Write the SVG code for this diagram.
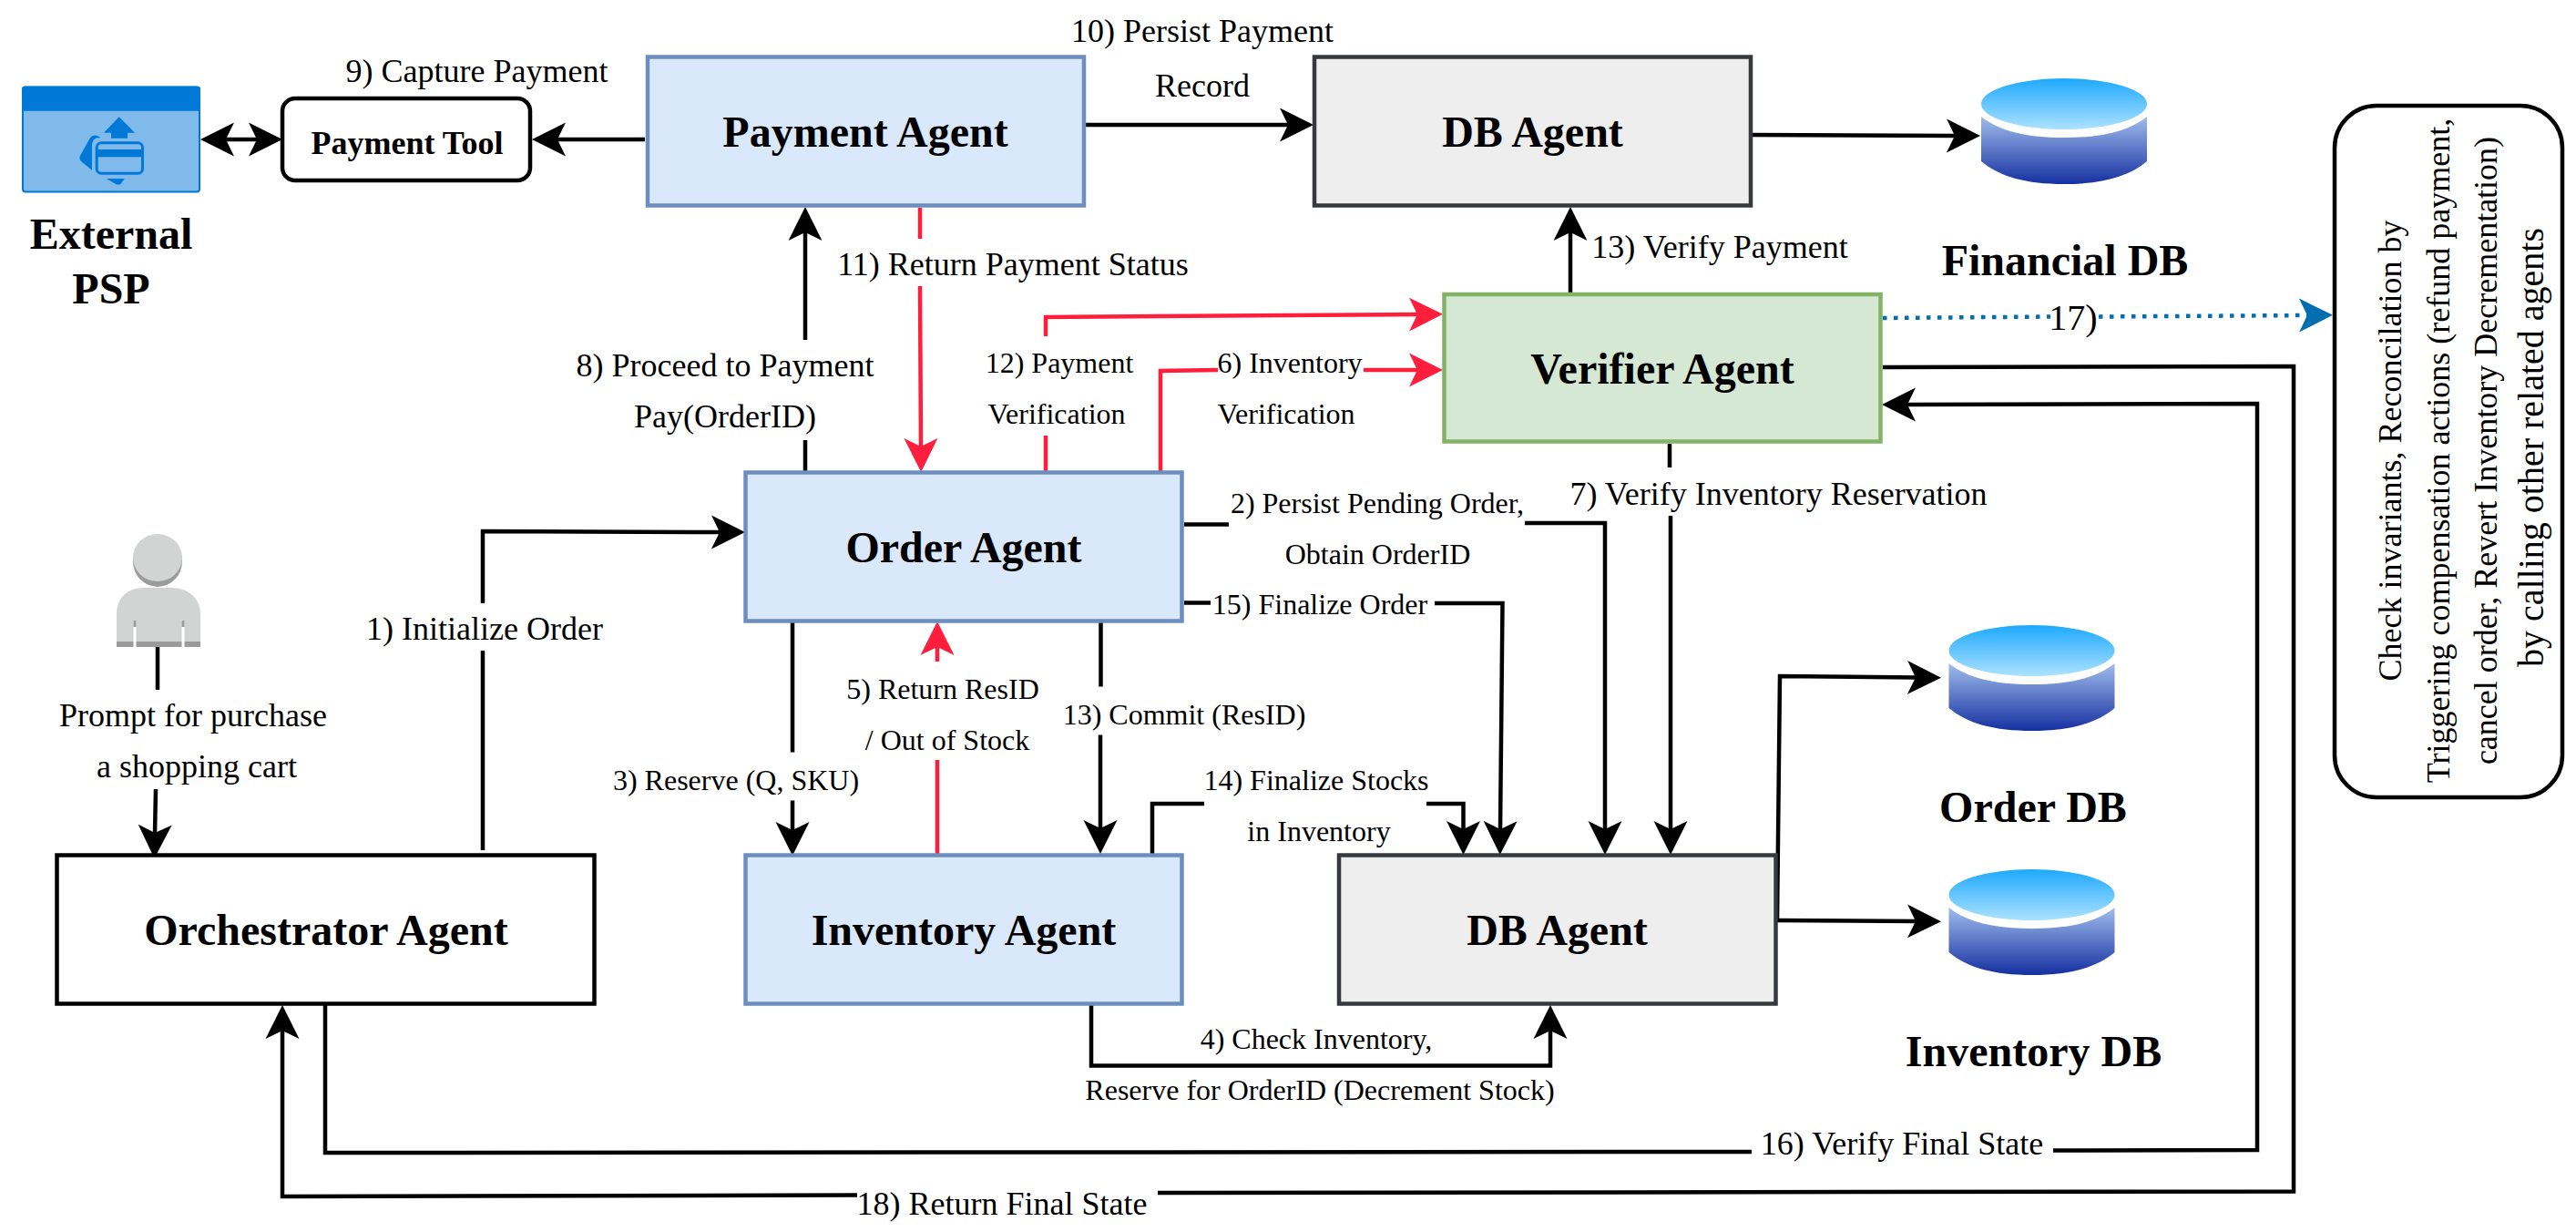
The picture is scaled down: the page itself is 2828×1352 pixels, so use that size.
<svg xmlns="http://www.w3.org/2000/svg" width="2828" height="1352" viewBox="0 0 2828 1352">
<style>
text{font-family:"Liberation Serif","Times New Roman",serif;fill:#000;text-anchor:middle}
.n{font-size:48px;font-weight:700}
.a{font-size:36px}
.b{font-size:32px}
.box{stroke-width:4.5}
.blue{fill:#dae8fc;stroke:#6c8ebf}
.gray{fill:#eeeeee;stroke:#36393d}
.k{fill:none;stroke:#000;stroke-width:4.5;marker-end:url(#ak)}
.kn{fill:none;stroke:#000;stroke-width:4.5}
.r{fill:none;stroke:#ff1f3d;stroke-width:4.5;marker-end:url(#ar)}
.d{fill:none;stroke:#006eaf;stroke-width:4.5;stroke-dasharray:4.5 7.5;marker-end:url(#ad)}
</style>
<defs>
<marker id="ak" markerUnits="userSpaceOnUse" markerWidth="37" markerHeight="38" refX="10" refY="19" orient="auto"><path d="M37,19 L0,0.5 L9,19 L0,37.5 Z" fill="#000"/></marker>
<marker id="ar" markerUnits="userSpaceOnUse" markerWidth="37" markerHeight="38" refX="10" refY="19" orient="auto"><path d="M37,19 L0,0.5 L9,19 L0,37.5 Z" fill="#ff1f3d"/></marker>
<marker id="ad" markerUnits="userSpaceOnUse" markerWidth="37" markerHeight="38" refX="10" refY="19" orient="auto"><path d="M37,19 L0,0.5 L9,19 L0,37.5 Z" fill="#006eaf"/></marker>
<marker id="as" markerUnits="userSpaceOnUse" markerWidth="37" markerHeight="38" refX="10" refY="19" orient="auto-start-reverse"><path d="M37,19 L0,0.5 L9,19 L0,37.5 Z" fill="#000"/></marker>
<linearGradient id="gt" x1="0" y1="0" x2="0" y2="1"><stop offset="0" stop-color="#1ea9fd"/><stop offset="1" stop-color="#ace2ff"/></linearGradient>
<linearGradient id="gb" x1="0" y1="0" x2="0" y2="1"><stop offset="0" stop-color="#a0bcec"/><stop offset="1" stop-color="#1530a0"/></linearGradient>
<g id="cyl">
<ellipse cx="91" cy="28" rx="91" ry="28" fill="url(#gt)"/>
<path d="M0,42 C20,58 50,65 91,65 C132,65 162,58 182,42 L182,91 C162,108 132,116 91,116 C50,116 20,108 0,91 Z" fill="url(#gb)"/>
</g>
</defs>
<rect width="2828" height="1352" fill="#fff"/>

<g id="connectors">
<path class="kn" d="M247,153 L283,153" style="marker-start:url(#as);marker-end:url(#as)"/>
<path class="k" d="M708,153 L611,153"/>
<path class="k" d="M1190,137 L1415,137"/>
<path class="k" d="M1923,148 L2147,149"/>
<path class="k" d="M530,933 L530,714 M530,662 L530,583 L791,584"/>
<path class="kn" d="M173,710 L173,757"/>
<path class="k" d="M171,866 L170,915"/>
<path class="k" d="M884,517 L884,483 M884,373 L884,254"/>
<path class="r" d="M1010,228 L1010,262 M1010,314 L1011,491"/>
<path class="r" d="M1148,517 L1148,478 M1148,369 L1148,348 L1557,345"/>
<path class="r" d="M1274,517 L1274,407 L1337,406 M1497,406 L1557,406"/>
<path class="k" d="M1300,575.5 L1349,575.5 M1674,574 L1762,574 L1762,911"/>
<path class="k" d="M1300,661.5 L1329,661.5 M1575,662 L1649.5,662 L1647,911"/>
<path class="k" d="M1833,487 L1833,513 M1834,566 L1834,911"/>
<path class="k" d="M1265,938 L1265,882 L1322,882 M1566,882 L1606.5,882 L1606.5,911"/>
<path class="k" d="M870,683 L870,825.5 M870,878.5 L870,912"/>
<path class="r" d="M1029,938 L1029,834 M1029,726 L1029,709"/>
<path class="k" d="M1208.5,683 L1208.5,753.5 M1208,806.5 L1208,910"/>
<path class="k" d="M1198,1102 L1198,1169.5 L1702,1169.5 L1702,1130"/>
<path class="k" d="M1951,1010 L2104,1011"/>
<path class="k" d="M1951,1010 L1954,742 L2104,743.5"/>
<path class="k" d="M1724,321 L1724,254"/>
<path class="k" d="M2067,403 L2518,402 L2518,1307.5 L1271,1309 M941,1311.5 L310,1313 L310,1130"/>
<path class="k" d="M357,1102 L357,1265 L1923,1264 M2254,1262.5 L2478,1262 L2478,443 L2093,444"/>
<path class="d" d="M2067,349 L2251,347.5 M2304,347.5 L2534,346"/>
</g>

<g id="external-psp">
<rect x="25" y="95.5" width="194" height="115" rx="3" fill="#7fbaea" stroke="#0078d7" stroke-width="2"/>
<path d="M24,121.7 L24,97.5 Q24,94.7 27,94.7 L217,94.7 Q220,94.7 220,97.5 L220,121.7 Z" fill="#0078d7"/>
<path d="M130.7,128.3 L148,145.7 L140,145.7 L140,151.7 L122,151.7 L122,145.7 L114,145.7 Z" fill="#0078d7"/>
<path d="M101,186.7 L89,177 Q86.5,174 88,171 L98.5,152 Q101.5,148 106,148.7 L110.7,151 L106,151.5 Q101,153 101,160 Z" fill="#0078d7"/>
<rect x="106.2" y="156.8" width="50.3" height="33.4" rx="5" fill="#7fbaea" stroke="#0078d7" stroke-width="3"/>
<rect x="105" y="164" width="53" height="8.3" fill="#0078d7"/>
<path d="M116.7,196 L136.7,196 L132.7,201.7 Q129.3,203.5 126.7,201.7 Z" fill="#0078d7"/>
<text class="n" x="122" y="273">External</text>
<text class="n" x="122" y="333">PSP</text>
</g>
<g id="payment-tool">
<rect x="310" y="108" width="272" height="90" rx="14" fill="#fff" stroke="#000" class="box"/>
<text x="447" y="169" font-size="36" font-weight="700">Payment Tool</text>
</g>
<g id="payment-agent"><rect class="box blue" x="711" y="62.5" width="479" height="163"/><text class="n" x="950" y="161">Payment Agent</text></g>
<g id="db-agent-top"><rect class="box gray" x="1443" y="62.5" width="479" height="163"/><text class="n" x="1682.5" y="161">DB Agent</text></g>
<g id="verifier-agent"><rect class="box" fill="#d5e8d4" stroke="#82b366" x="1585.5" y="323" width="479" height="161.5"/><text class="n" x="1825" y="421">Verifier Agent</text></g>
<g id="order-agent"><rect class="box blue" x="818.5" y="518.5" width="479" height="163"/><text class="n" x="1058" y="617">Order Agent</text></g>
<g id="inventory-agent"><rect class="box blue" x="818.5" y="938.5" width="479" height="163"/><text class="n" x="1058" y="1037">Inventory Agent</text></g>
<g id="db-agent-bottom"><rect class="box gray" x="1470" y="938.5" width="479.5" height="163"/><text class="n" x="1709.5" y="1037">DB Agent</text></g>
<g id="orchestrator-agent"><rect class="box" fill="#fff" stroke="#000" x="62.5" y="938.5" width="590" height="163"/><text class="n" x="358" y="1037">Orchestrator Agent</text></g>

<g id="financial-db"><use href="#cyl" x="2175" y="86"/><text class="n" x="2267" y="302">Financial DB</text></g>
<g id="order-db"><use href="#cyl" x="2139.5" y="686"/><text class="n" x="2232" y="901.5">Order DB</text></g>
<g id="inventory-db"><use href="#cyl" x="2139.5" y="954"/><text class="n" x="2232.5" y="1169.5">Inventory DB</text></g>

<g id="reconciliation">
<rect x="2563" y="116" width="250" height="759" rx="46" fill="#fff" stroke="#000" class="box"/>
<g transform="translate(2636,494.5) rotate(-90)"><text class="a" x="0" y="0">Check invariants, Reconcilation by</text></g>
<g transform="translate(2689,494.5) rotate(-90)"><text class="a" x="0" y="0">Triggering compensation actions (refund payment,</text></g>
<g transform="translate(2741,494.5) rotate(-90)"><text class="a" x="0" y="0">cancel order, Revert Inventory Decrementation)</text></g>
<g transform="translate(2792,491) rotate(-90)"><text x="0" y="0" font-size="40">by calling other related agents</text></g>
</g>

<g id="user">
<ellipse cx="173" cy="616" rx="27" ry="28" fill="#9b9b9b"/>
<ellipse cx="173" cy="612" rx="27" ry="26" fill="#d2d3d3"/>
<path d="M128,710 L128,674 C128,656 140,645 158,645 L188,645 C206,645 220,656 220,674 L220,710 Z" fill="#d2d3d3"/>
<rect x="128" y="704" width="92" height="6" fill="#9b9b9b"/>
<rect x="146.5" y="681" width="3" height="29" fill="#fff"/>
<rect x="199.5" y="681" width="3" height="29" fill="#fff"/>
<rect x="146.5" y="681" width="3" height="7" fill="#9b9b9b"/>
<rect x="199.5" y="681" width="3" height="7" fill="#9b9b9b"/>
</g>

<g id="labels">
<text class="a" x="523.5" y="90">9) Capture Payment</text>
<text class="a" x="1320" y="46">10) Persist Payment</text>
<text class="a" x="1320" y="106">Record</text>
<text class="a" x="1112" y="302">11) Return Payment Status</text>
<text class="a" x="1888" y="283">13) Verify Payment</text>
<text x="2276" y="362" font-size="40">17)</text>
<text class="a" x="796" y="413">8) Proceed to Payment</text>
<text class="a" x="796" y="469">Pay(OrderID)</text>
<text class="b" x="1163" y="409">12) Payment</text>
<text class="b" x="1160" y="465">Verification</text>
<text class="b" x="1416" y="409">6) Inventory</text>
<text class="b" x="1412" y="465">Verification</text>
<text class="b" x="1512" y="563">2) Persist Pending Order,</text>
<text class="b" x="1512.5" y="619">Obtain OrderID</text>
<text class="b" x="1449" y="674">15) Finalize Order</text>
<text class="a" x="1952.5" y="554">7) Verify Inventory Reservation</text>
<text class="a" x="532" y="702">1) Initialize Order</text>
<text class="a" x="212" y="797">Prompt for purchase</text>
<text class="a" x="216" y="853">a shopping cart</text>
<text class="b" x="808" y="866.5">3) Reserve (Q, SKU)</text>
<text class="b" x="1035" y="767">5) Return ResID</text>
<text class="b" x="1040" y="822.5">/ Out of Stock</text>
<text class="b" x="1300" y="794.5">13) Commit (ResID)</text>
<text class="b" x="1445" y="866.5">14) Finalize Stocks</text>
<text class="b" x="1448" y="922.5">in Inventory</text>
<text class="b" x="1445" y="1151">4) Check Inventory,</text>
<text class="b" x="1449" y="1207">Reserve for OrderID (Decrement Stock)</text>
<text class="a" x="2088" y="1267">16) Verify Final State</text>
<text class="a" x="1100" y="1333">18) Return Final State</text>
</g>
</svg>
